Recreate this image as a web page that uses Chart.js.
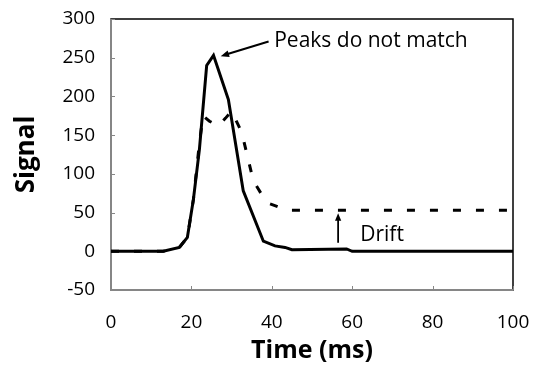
<!DOCTYPE html>
<html>
<head>
<meta charset="utf-8">
<script src="https://cdn.jsdelivr.net/npm/chart.js@4/dist/chart.umd.min.js"></script>
<style>
  html, body { margin: 0; padding: 0; background: #fff; }
  #wrap { width: 540px; height: 372px; }
</style>
</head>
<body>
<div id="wrap"><canvas id="signalChart"></canvas></div>
<script>
// measured trace (solid)
const measuredTime = [0, 13, 17, 19, 20.5, 22, 23.8, 25.5, 29.2, 32.9, 37.9, 40.8, 43.3, 45, 58.6, 60, 100]
const measuredSignal = [0, 0, 5, 18, 67, 132, 240, 253, 196, 78, 13, 7, 5, 2, 3, 0, 0]
// model trace (dashed)
const modelTime = [0, 13, 17, 19, 20.5, 22, 22.9, 24.5, 26.7, 28.5, 30, 32.5, 35.4, 38.7, 42.9, 44, 100]
const modelSignal = [0, 0, 5, 18, 67, 140, 175, 168, 162, 172, 181, 154, 91, 63, 55, 53, 53]
const xTicks = [0, 20, 40, 60, 80, 100]
const yTicks = [-50, 0, 50, 100, 150, 200, 250, 300]

const FONT = "'Open Sans', 'DejaVu Sans', sans-serif"

function toPoints(xs, ys) {
    return xs.map((x, i) => ({ x: x, y: ys[i] }))
}

// keep the plot area where the layout padding says, not where the labels push it
function noOverflow(s) {
    s.paddingLeft = 0
    s.paddingRight = 0
    s.paddingTop = 0
    s.paddingBottom = 0
}

function arrow(ctx, x1, y1, x2, y2, head) {
    // line from (x1,y1) to (x2,y2), arrow head at (x2,y2)
    const ang = Math.atan2(y2 - y1, x2 - x1)
    ctx.beginPath()
    ctx.moveTo(x1, y1)
    ctx.lineTo(x2 - Math.cos(ang) * head * 0.8, y2 - Math.sin(ang) * head * 0.8)
    ctx.stroke()
    ctx.beginPath()
    ctx.moveTo(x2, y2)
    ctx.lineTo(x2 - head * Math.cos(ang - 0.4), y2 - head * Math.sin(ang - 0.4))
    ctx.lineTo(x2 - head * Math.cos(ang + 0.4), y2 - head * Math.sin(ang + 0.4))
    ctx.closePath()
    ctx.fill()
}

const frame = {
    id: 'frame',
    beforeDatasetsDraw(chart) {
        const { ctx, chartArea: a, scales } = chart
        ctx.save()
        // plot box
        ctx.strokeStyle = '#000'
        ctx.lineWidth = 1.5
        ctx.strokeRect(a.left, a.top, a.right - a.left, a.bottom - a.top)
        // axes in gray
        ctx.strokeStyle = '#868686'
        ctx.lineWidth = 2
        ctx.beginPath()
        ctx.moveTo(a.left, a.top)
        ctx.lineTo(a.left, a.bottom)
        ctx.lineTo(a.right, a.bottom)
        ctx.stroke()
        // inside tick marks
        ctx.lineWidth = 1
        ctx.beginPath()
        yTicks.forEach(v => {
            const y = Math.round(scales.y.getPixelForValue(v)) + 0.5
            ctx.moveTo(a.left, y)
            ctx.lineTo(a.left + 4, y)
        })
        xTicks.forEach(v => {
            const x = Math.round(scales.x.getPixelForValue(v)) + 0.5
            ctx.moveTo(x, a.bottom)
            ctx.lineTo(x, a.bottom - 4)
        })
        ctx.stroke()
        ctx.restore()
    },
    afterDatasetsDraw(chart) {
        const { ctx, scales } = chart
        const px = v => scales.x.getPixelForValue(v)
        const py = v => scales.y.getPixelForValue(v)
        ctx.save()
        ctx.strokeStyle = '#000'
        ctx.fillStyle = '#000'
        ctx.lineWidth = 2
        // peaks annotation
        arrow(ctx, px(39.2), py(271), px(27.3), py(252), 9)
        // drift annotation
        ctx.lineWidth = 1.8
        arrow(ctx, px(56.5), py(11), px(56.5), py(49), 8)
        ctx.font = "21px " + FONT
        ctx.textBaseline = 'middle'
        ctx.textAlign = 'left'
        ctx.fillText('Peaks do not match', px(40.6), py(271))
        ctx.fillText('Drift', px(62), py(21))
        ctx.restore()
    }
}

new Chart('signalChart', {
    type: 'line',
    data: {
        datasets: [
            {
                label: 'Measured',
                data: toPoints(measuredTime, measuredSignal),
                borderColor: '#000',
                borderWidth: 3,
                pointRadius: 0,
                tension: 0,
                fill: false,
            },
            {
                label: 'Model',
                data: toPoints(modelTime, modelSignal),
                borderColor: '#000',
                borderWidth: 3,
                borderDash: [8, 15],
                pointRadius: 0,
                tension: 0,
                fill: false,
            },
        ]
    },
    options: {
        responsive: true,
        maintainAspectRatio: false,
        animation: false,
        layout: { padding: { top: 19, right: 27, left: 0, bottom: 0 } },
        plugins: {
            legend: { display: false },
            tooltip: { enabled: false },
        },
        scales: {
            x: {
                type: 'linear',
                min: 0,
                max: 100,
                afterBuildTicks(s) { s.ticks = xTicks.map(v => ({ value: v })) },
                afterFit(s) { s.height = 82; noOverflow(s) },
                grid: { display: false, drawTicks: false },
                border: { display: false },
                ticks: {
                    color: '#000',
                    padding: 21,
                    font: { family: FONT, size: 19 },
                },
                title: {
                    display: true,
                    text: 'Time (ms)',
                    color: '#000',
                    padding: { top: 0, bottom: 6 },
                    font: { family: FONT, size: 25, weight: 'bold' },
                },
            },
            y: {
                min: -50,
                max: 300,
                afterBuildTicks(s) { s.ticks = yTicks.map(v => ({ value: v })) },
                afterFit(s) { s.width = 111; noOverflow(s) },
                grid: { display: false, drawTicks: false },
                border: { display: false },
                ticks: {
                    color: '#000',
                    padding: 16,
                    font: { family: FONT, size: 19 },
                },
                title: {
                    display: true,
                    text: 'Signal',
                    color: '#000',
                    padding: { top: 11, bottom: 0 },
                    font: { family: FONT, size: 26, weight: 'bold' },
                },
            },
        },
    },
    plugins: [frame],
})
</script>
</body>
</html>
